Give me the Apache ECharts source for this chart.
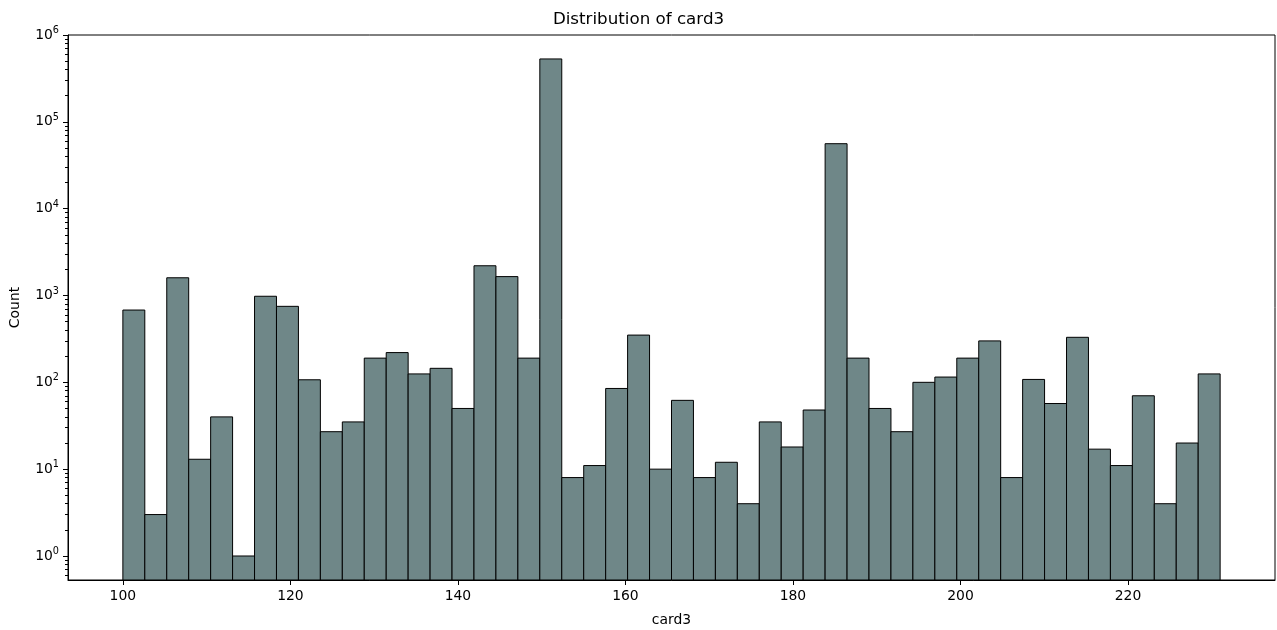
<!DOCTYPE html>
<html>
<head>
<meta charset="utf-8">
<script src="https://cdn.jsdelivr.net/npm/echarts@6/dist/echarts.min.js"></script>
<style>
  html, body { margin: 0; padding: 0; background: #fff; }
  #chart { width: 1277px; height: 630px; }
</style>
</head>
<body>
<div id="chart"></div>
<script>
// Histogram of card3: 50 equal-width bins between the data min and max
const binStart = 100;
const binEnd = 231;
const counts = [
  680, 3, 1600, 13, 40, 1, 980, 750, 107, 27,
  35, 190, 220, 125, 145, 50, 2200, 1650, 190, 530000,
  8, 11, 85, 350, 10, 62, 8, 12, 4, 35,
  18, 48, 56000, 190, 50, 27, 100, 115, 190, 300,
  8, 108, 57, 330, 17, 11, 70, 4, 20, 125
];
const xTicks = [100, 120, 140, 160, 180, 200, 220];
const yTicks = [1, 10, 100, 1000, 10000, 100000, 1000000];
const yMin = 0.529;
const yMax = 1000000;

const binWidth = (binEnd - binStart) / counts.length;
const bins = counts.map((c, i) => [binStart + i * binWidth, binStart + (i + 1) * binWidth, c]);

// minor log ticks at 2..9 of each decade
const yMinor = [];
for (let d = -1; d <= 5; d++) {
  for (let k = 2; k <= 9; k++) {
    const v = k * Math.pow(10, d);
    if (v > yMin && v < yMax) yMinor.push(v);
  }
}

const xPad = (binEnd - binStart) * 0.05;
const font = 'DejaVu Sans';

const chart = echarts.init(document.getElementById('chart'), null, { renderer: 'canvas' });

chart.setOption({
  animation: false,
  backgroundColor: '#fff',
  title: {
    text: 'Distribution of card3',
    left: 'center',
    top: 6,
    textStyle: { fontFamily: font, fontSize: 16.7, fontWeight: 'normal', color: '#000' }
  },
  grid: {
    left: 68, right: 2, top: 35, bottom: 50,
    outerBoundsMode: 'none',
    containLabel: false,
    show: true, borderColor: '#000', borderWidth: 1, backgroundColor: 'transparent'
  },
  xAxis: {
    type: 'value',
    min: binStart - xPad,
    max: binEnd + xPad,
    name: 'card3',
    nameLocation: 'middle',
    nameGap: 33,
    nameTextStyle: { fontFamily: font, fontSize: 13.9, color: '#000' },
    axisLine: { show: true, lineStyle: { color: '#000', width: 1 } },
    axisTick: { show: true, length: 5, lineStyle: { color: '#000' }, customValues: xTicks },
    axisLabel: { fontFamily: font, fontSize: 13.9, color: '#000', margin: 9, customValues: xTicks },
    splitLine: { show: false }
  },
  yAxis: [
    {
      type: 'log',
      logBase: 10,
      min: yMin,
      max: yMax,
      name: 'Count',
      nameLocation: 'middle',
      nameGap: 46,
      nameTextStyle: { fontFamily: font, fontSize: 13.9, color: '#000' },
      axisLine: { show: true, lineStyle: { color: '#000', width: 1 } },
      axisTick: { show: true, length: 5, lineStyle: { color: '#000' }, customValues: yTicks },
      axisLabel: {
        fontFamily: font, fontSize: 13.9, color: '#000', margin: 9,
        customValues: yTicks,
        formatter: function (v) {
          return '10{s|' + Math.round(Math.log10(v)) + '}';
        },
        rich: {
          s: { fontFamily: font, fontSize: 9.7, color: '#000', verticalAlign: 'top', padding: [0, 0, 9, 0] }
        }
      },
      splitLine: { show: false }
    },
    {
      type: 'log',
      logBase: 10,
      min: yMin,
      max: yMax,
      position: 'left',
      axisLine: { show: false },
      axisTick: { show: true, length: 3, lineStyle: { color: '#000' }, customValues: yMinor },
      axisLabel: { show: false },
      splitLine: { show: false }
    }
  ],
  series: [{
    type: 'custom',
    yAxisIndex: 0,
    data: bins,
    encode: { x: [0, 1], y: 2 },
    renderItem: function (params, api) {
      const top = api.coord([api.value(0), api.value(2)]);
      const right = api.coord([api.value(1), api.value(2)]);
      const bottom = params.coordSys.y + params.coordSys.height;
      return {
        type: 'rect',
        shape: { x: top[0], y: top[1], width: right[0] - top[0], height: bottom - top[1] },
        style: { fill: '#6f8788', stroke: '#000', lineWidth: 1 }
      };
    }
  }]
});
</script>
</body>
</html>
